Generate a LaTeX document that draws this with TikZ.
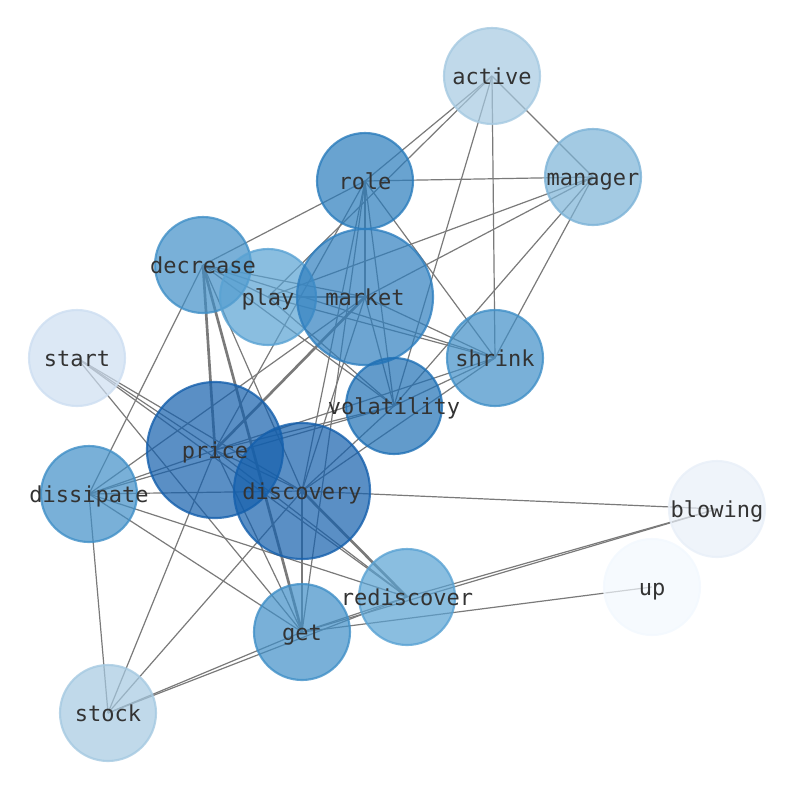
\documentclass[tikz,border=0pt]{standalone}
\usepackage{fontspec}
\setmonofont{DejaVu Sans Mono}
\usetikzlibrary{backgrounds}

\definecolor{colorEdge}{HTML}{7A7A7A}
\definecolor{colorText}{HTML}{333333}
\definecolor{colorDeep}{HTML}{145FAC}
\definecolor{colorVola}{HTML}{1F70B5}
\definecolor{colorRole}{HTML}{2A7CBC}
\definecolor{colorMarket}{HTML}{2F7FBF}
\definecolor{colorMid}{HTML}{408FC7}
\definecolor{colorPlay}{HTML}{59A2D3}
\definecolor{colorManager}{HTML}{7CB3D7}
\definecolor{colorActive}{HTML}{A5C9E1}
\definecolor{colorStart}{HTML}{CDDEF1}
\definecolor{colorBlowing}{HTML}{E8EFF8}
\definecolor{colorUp}{HTML}{F2F8FE}

\tikzset{
    mot/.style={circle, inner sep=0pt, minimum size=72pt, line width=1.6pt,
        fill=#1, draw=#1, fill opacity=0.7, draw opacity=0.8},
    grosmot/.style={mot=#1, minimum size=102pt},
    etiquette/.style={font=\ttfamily\fontsize{16.5}{20}\selectfont, text=colorText,
        inner sep=0pt, anchor=base, yshift=-6.3pt},
    lien/.style={line width=0.9pt, colorEdge},
    lienfort/.style={line width=2pt, colorEdge},
}

\begin{document}
\begin{tikzpicture}[x=0.75pt, y=-0.75pt]

    \useasboundingbox (0,0) rectangle (794,790);

    % Cercles des mots
    \node[mot=colorActive]  (active)     at (492,76)  {};
    \node[mot=colorManager] (manager)    at (593,177) {};
    \node[mot=colorRole]    (role)       at (365,181) {};
    \node[mot=colorMid]     (decrease)   at (203,265) {};
    \node[mot=colorPlay]    (play)       at (268,297) {};
    \node[grosmot=colorMarket] (market)  at (365,297) {};
    \node[mot=colorMid]     (shrink)     at (495,358) {};
    \node[mot=colorStart]   (start)      at (77,358)  {};
    \node[mot=colorVola]    (volatility) at (394,406) {};
    \node[grosmot=colorDeep] (price)     at (215,450) {};
    \node[grosmot=colorDeep] (discovery) at (302,491) {};
    \node[mot=colorMid]     (dissipate)  at (89,494)  {};
    \node[mot=colorBlowing] (blowing)    at (717,509) {};
    \node[mot=colorUp]      (up)         at (652,587) {};
    \node[mot=colorPlay]    (rediscover) at (407,597) {};
    \node[mot=colorMid]     (get)        at (302,632) {};
    \node[mot=colorActive]  (stock)      at (108,713) {};

    % Textes
    \foreach \mot in {active,manager,role,decrease,play,market,shrink,start,volatility,
                      price,discovery,dissipate,blowing,up,rediscover,get,stock}
        \node[etiquette] (t-\mot) at (\mot.center) {\mot};

    % Liens (sous les cercles)
    \begin{pgfonlayer}{background}
    \foreach \a/\b in {active/role, active/play, active/volatility, active/shrink, active/manager,
                       manager/role, manager/play, manager/market, manager/volatility, manager/shrink,
                       role/decrease, role/shrink, role/market, role/volatility, role/price,
                       role/discovery, role/get,
                       decrease/play, decrease/market, decrease/shrink, decrease/volatility,
                       decrease/dissipate, decrease/discovery,
                       play/market, play/shrink, play/volatility,
                       market/shrink, market/volatility, market/discovery, market/dissipate,
                       shrink/volatility, shrink/price, shrink/discovery,
                       volatility/price, volatility/discovery, volatility/dissipate,
                       start/price, start/discovery, start/rediscover, start/get,
                       price/discovery, price/dissipate, price/rediscover, price/get, price/stock,
                       dissipate/discovery, dissipate/rediscover, dissipate/get, dissipate/stock,
                       discovery/blowing, discovery/stock,
                       get/stock, rediscover/stock, get/blowing, rediscover/blowing,
                       get/up, get/rediscover}
        \draw[lien] (\a.center) -- (\b.center);
    \foreach \a/\b in {decrease/price, decrease/get, market/price,
                       discovery/get, discovery/rediscover}
        \draw[lienfort] (\a.center) -- (\b.center);
    \end{pgfonlayer}

\end{tikzpicture}
\end{document}
